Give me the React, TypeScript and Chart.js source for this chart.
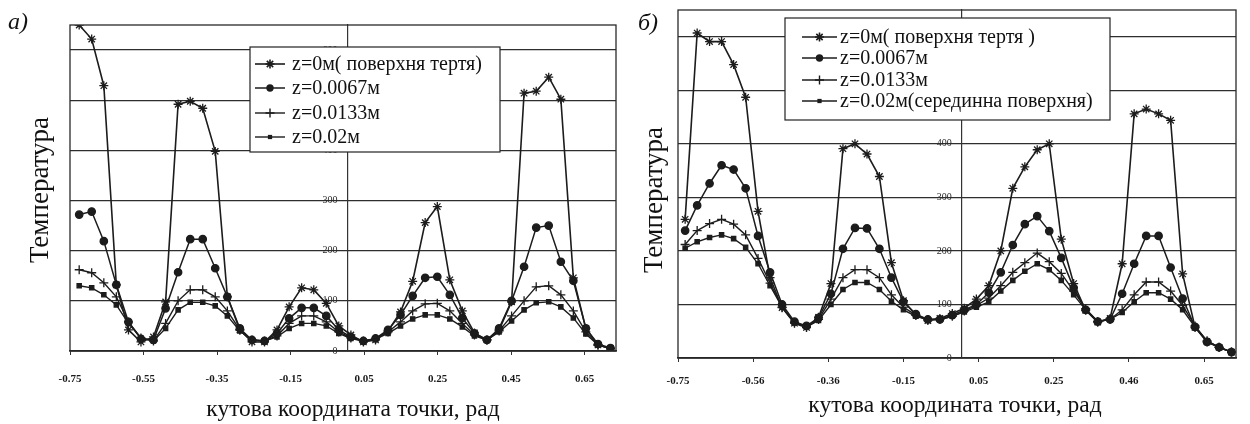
import React, { useEffect, useRef } from 'react';
import { Chart, registerables } from 'chart.js';

Chart.register(...registerables);

const SERIF = "'Liberation Serif', 'Times New Roman', serif";

// ---------- panel а) ----------
const XA = [
  -0.725, -0.691, -0.658, -0.624, -0.591, -0.557, -0.523, -0.49, -0.456, -0.423,
  -0.389, -0.355, -0.322, -0.288, -0.255, -0.221, -0.187, -0.154, -0.12, -0.087,
  -0.053, -0.019, 0.014, 0.048, 0.081, 0.115, 0.149, 0.182, 0.216, 0.249,
  0.283, 0.317, 0.35, 0.384, 0.417, 0.451, 0.485, 0.518, 0.552, 0.585,
  0.619, 0.653, 0.686, 0.72,
];
const A_Z0 = [
  650, 622, 529, 132, 42, 18, 28, 98, 492, 498, 484, 398, 108, 42, 18, 18, 42, 88, 126, 122,
  95, 50, 32, 18, 22, 40, 78, 139, 256, 288, 142, 80, 36, 22, 42, 98, 514, 518, 546, 502,
  146, 45, 12, 5,
];
const A_Z1 = [
  272, 278, 219, 132, 58, 24, 22, 85, 157, 223, 223, 165, 108, 45, 22, 20, 35, 65, 86, 86,
  70, 42, 28, 20, 25, 42, 72, 110, 146, 148, 112, 66, 35, 22, 45, 100, 168, 246, 250, 178,
  140, 45, 14, 6,
];
const A_Z2 = [
  162, 156, 136, 108, 58, 26, 20, 55, 100, 122, 122, 108, 80, 42, 22, 20, 30, 55, 70, 70,
  58, 38, 26, 20, 24, 38, 58, 80, 94, 95, 80, 55, 32, 22, 40, 70, 100, 128, 130, 112,
  80, 38, 12, 5,
];
const A_Z3 = [
  130, 126, 112, 92, 55, 26, 20, 45, 82, 97, 97, 90, 70, 40, 22, 20, 28, 45, 55, 55,
  50, 35, 25, 20, 24, 35, 50, 64, 72, 72, 64, 48, 30, 22, 38, 60, 82, 96, 98, 88,
  66, 34, 12, 5,
];
const A_LABELS = ['z=0м( поверхня тертя)', 'z=0.0067м', 'z=0.0133м', 'z=0.02м'];
const A_XTICK_LABELS = ['-0.75', '-0.55', '-0.35', '-0.15', '0.05', '0.25', '0.45', '0.65'];

// ---------- panel б) ----------
const XB = [
  -0.731, -0.699, -0.666, -0.634, -0.602, -0.57, -0.537, -0.505, -0.473, -0.44,
  -0.408, -0.376, -0.343, -0.311, -0.279, -0.247, -0.214, -0.182, -0.15, -0.117,
  -0.085, -0.053, -0.02, 0.012, 0.044, 0.077, 0.109, 0.141, 0.173, 0.206,
  0.238, 0.27, 0.303, 0.335, 0.367, 0.4, 0.432, 0.464, 0.496, 0.529,
  0.561, 0.593, 0.626, 0.658, 0.69, 0.723,
];
const B_Z0 = [
  259, 607, 591, 591, 548, 487, 274, 150, 94, 65, 57, 76, 139, 391, 400, 381, 339, 178, 107, 80,
  70, 74, 83, 93, 110, 135, 200, 317, 357, 389, 400, 222, 139, 89, 67, 74, 176, 456, 465, 456,
  444, 157, 57, 30, 20, 11,
];
const B_Z1 = [
  238, 285, 326, 360, 352, 317, 228, 160, 100, 68, 60, 75, 120, 204, 243, 242, 204, 150, 105, 82,
  72, 72, 80, 90, 100, 122, 160, 211, 250, 265, 237, 187, 131, 90, 68, 72, 120, 176, 228, 228,
  169, 111, 58, 30, 20, 11,
];
const B_Z2 = [
  212, 238, 251, 259, 250, 230, 186, 140, 95, 66, 58, 72, 110, 150, 165, 165, 150, 118, 95, 80,
  72, 72, 78, 88, 98, 112, 135, 160, 178, 196, 180, 158, 125, 92, 68, 72, 90, 118, 142, 142,
  125, 98, 60, 32, 20, 11,
];
const B_Z3 = [
  205, 217, 225, 230, 223, 207, 176, 135, 95, 66, 58, 70, 100, 128, 141, 141, 128, 106, 90, 78,
  72, 72, 78, 86, 95, 105, 125, 145, 162, 176, 165, 145, 118, 90, 68, 72, 85, 105, 122, 122,
  110, 90, 58, 32, 20, 11,
];
const B_LABELS = ['z=0м( поверхня тертя )', 'z=0.0067м', 'z=0.0133м', 'z=0.02м(серединна поверхня)'];
const B_XTICK_LABELS = ['-0.75', '-0.56', '-0.36', '-0.15', '0.05', '0.25', '0.46', '0.65'];

// ---------- shared ----------
const X_TICK_VALUES = [-0.75, -0.55, -0.35, -0.15, 0.05, 0.25, 0.45, 0.65];
const Y_TICK_VALUES = [0, 100, 200, 300, 400, 500, 600];
const X_TITLE = 'кутова координата точки, рад';
const Y_TITLE = 'Температура';

const SERIES_STYLE = [
  { pointStyle: 'star', pointRadius: 4.5, borderWidth: 1.6 },
  { pointStyle: 'circle', pointRadius: 3.7, borderWidth: 1.5 },
  { pointStyle: 'cross', pointRadius: 4.5, borderWidth: 1.4 },
  { pointStyle: 'rect', pointRadius: 3, borderWidth: 1.4 },
];

function drawMarker(ctx: CanvasRenderingContext2D, style: string, x: number, y: number, r: number) {
  ctx.beginPath();
  if (style === 'circle') {
    ctx.arc(x, y, r, 0, Math.PI * 2);
    ctx.fill();
    return;
  }
  if (style === 'rect') {
    const s = r / Math.SQRT2;
    ctx.fillRect(x - s, y - s, 2 * s, 2 * s);
    return;
  }
  ctx.moveTo(x - r, y); ctx.lineTo(x + r, y);
  ctx.moveTo(x, y - r); ctx.lineTo(x, y + r);
  if (style === 'star') {
    const d = r * Math.SQRT1_2;
    ctx.moveTo(x - d, y - d); ctx.lineTo(x + d, y + d);
    ctx.moveTo(x - d, y + d); ctx.lineTo(x + d, y - d);
  }
  ctx.stroke();
}

const decorPlugin = {
  id: 'decor',
  afterDraw(chart: any, _args: any, opts: any) {
    const ctx: CanvasRenderingContext2D = chart.ctx;
    const { left, right, top, bottom } = chart.chartArea;
    ctx.save();
    // plot frame
    ctx.strokeStyle = '#2a2a2a';
    ctx.lineWidth = 1.3;
    ctx.strokeRect(left, top, right - left, bottom - top);

    // legend box
    const lg = opts.legend;
    ctx.fillStyle = '#ffffff';
    ctx.fillRect(lg.x, lg.y, lg.w, lg.h);
    ctx.strokeStyle = '#222';
    ctx.lineWidth = 1.2;
    ctx.strokeRect(lg.x, lg.y, lg.w, lg.h);
    chart.data.datasets.forEach((ds: any, i: number) => {
      const y = lg.rows[i];
      ctx.strokeStyle = ds.borderColor;
      ctx.fillStyle = ds.borderColor;
      ctx.lineWidth = ds.borderWidth;
      ctx.beginPath();
      ctx.moveTo(lg.sx0, y);
      ctx.lineTo(lg.sx1, y);
      ctx.stroke();
      drawMarker(ctx, ds.pointStyle, (lg.sx0 + lg.sx1) / 2, y, ds.pointRadius);
      ctx.fillStyle = '#111';
      ctx.font = `20px ${SERIF}`;
      ctx.textAlign = 'left';
      ctx.textBaseline = 'middle';
      ctx.fillText(ds.label, lg.tx, y + 1);
    });

    // axis titles
    ctx.fillStyle = '#111';
    ctx.font = `23.5px ${SERIF}`;
    ctx.textAlign = 'center';
    ctx.textBaseline = 'middle';
    ctx.fillText(X_TITLE, opts.xTitle.x, opts.xTitle.y);

    ctx.save();
    ctx.translate(opts.yTitle.x, opts.yTitle.y);
    ctx.rotate(-Math.PI / 2);
    ctx.font = `27px ${SERIF}`;
    ctx.fillText(Y_TITLE, 0, 0);
    ctx.restore();

    // panel label
    ctx.font = `italic 24px ${SERIF}`;
    ctx.textAlign = 'left';
    ctx.textBaseline = 'alphabetic';
    ctx.fillText(opts.panelLabel.text, opts.panelLabel.x, opts.panelLabel.y);
    ctx.restore();
  },
};

type PanelDef = {
  xs: number[];
  series: number[][];
  labels: string[];
  xTickLabels: string[];
  padding: { left: number; right: number; top: number };
  xAxisHeight: number;
  xTickPadding: number;
  legend: any;
  xTitle: { x: number; y: number };
  yTitle: { x: number; y: number };
  panelLabel: { text: string; x: number; y: number };
};

function buildConfig(p: PanelDef): any {
  const datasets = p.series.map((vals, i) => ({
    label: p.labels[i],
    data: p.xs.map((x, k) => ({ x, y: vals[k] })),
    borderColor: '#1c1c1c',
    backgroundColor: '#1c1c1c',
    pointBackgroundColor: '#1c1c1c',
    pointBorderColor: '#1c1c1c',
    pointBorderWidth: 1.3,
    borderWidth: SERIES_STYLE[i].borderWidth,
    pointStyle: SERIES_STYLE[i].pointStyle,
    pointRadius: SERIES_STYLE[i].pointRadius,
    tension: 0,
    fill: false,
  }));
  return {
    type: 'line',
    data: { datasets },
    options: {
      responsive: false,
      animation: false,
      devicePixelRatio: 1,
      layout: { padding: { left: p.padding.left, right: p.padding.right, top: p.padding.top, bottom: 0 } },
      plugins: {
        legend: { display: false },
        tooltip: { enabled: false },
        decor: {
          legend: p.legend,
          xTitle: p.xTitle,
          yTitle: p.yTitle,
          panelLabel: p.panelLabel,
        },
      },
      scales: {
        x: {
          type: 'linear',
          min: -0.75,
          max: 0.735,
          afterBuildTicks: (s: any) => {
            s.ticks = X_TICK_VALUES.map((v) => ({ value: v }));
          },
          afterFit: (s: any) => {
            s.height = p.xAxisHeight;
          },
          grid: { drawOnChartArea: false, drawTicks: true, tickLength: 4, color: '#333', lineWidth: 1 },
          border: { display: true, color: '#222', width: 1.4 },
          ticks: {
            autoSkip: false,
            maxRotation: 0,
            padding: p.xTickPadding,
            color: '#1a1a1a',
            font: { family: SERIF, size: 11, weight: 'bold' },
            callback: (_v: any, i: number) => p.xTickLabels[i],
          },
        },
        y: {
          type: 'linear',
          min: 0,
          max: 650,
          position: { x: 0.005 },
          afterBuildTicks: (s: any) => {
            s.ticks = Y_TICK_VALUES.map((v) => ({ value: v }));
          },
          grid: { drawTicks: false, color: '#2e2e2e', lineWidth: 1.3 },
          border: { display: true, color: '#333', width: 1.2 },
          ticks: {
            color: '#2a2a2a',
            padding: 4,
            font: { family: SERIF, size: 10 },
            callback: (v: any) => String(v) + '\u2002\u2002',
          },
        },
      },
    },
    plugins: [decorPlugin],
  };
}

const PANEL_A: PanelDef = {
  xs: XA,
  series: [A_Z0, A_Z1, A_Z2, A_Z3],
  labels: A_LABELS,
  xTickLabels: A_XTICK_LABELS,
  padding: { left: 70, right: 9, top: 25 },
  xAxisHeight: 73,
  xTickPadding: 18,
  legend: { x: 250, y: 47, w: 250, h: 105, rows: [64, 88, 113, 137], sx0: 255, sx1: 285, tx: 292 },
  xTitle: { x: 353, y: 410 },
  yTitle: { x: 41, y: 190 },
  panelLabel: { text: 'а)', x: 8, y: 29 },
};

const PANEL_B: PanelDef = {
  xs: XB,
  series: [B_Z0, B_Z1, B_Z2, B_Z3],
  labels: B_LABELS,
  xTickLabels: B_XTICK_LABELS,
  padding: { left: 53, right: 14, top: 10 },
  xAxisHeight: 66,
  xTickPadding: 13,
  legend: { x: 160, y: 18, w: 325, h: 102, rows: [37, 58, 80, 101], sx0: 177, sx1: 212, tx: 215 },
  xTitle: { x: 330, y: 406 },
  yTitle: { x: 30, y: 200 },
  panelLabel: { text: 'б)', x: 13, y: 30 },
};

function ChartPanel({ def, left }: { def: PanelDef; left: number }) {
  const ref = useRef<HTMLCanvasElement>(null);
  useEffect(() => {
    if (!ref.current) return;
    const chart = new Chart(ref.current, buildConfig(def));
    return () => chart.destroy();
  }, [def]);
  return (
    <canvas
      ref={ref}
      width={625}
      height={424}
      style={{ position: 'absolute', left, top: 0, width: 625, height: 424 }}
    />
  );
}

export default function App() {
  return (
    <div style={{ position: 'absolute', left: 0, top: 0, width: 1250, height: 424, background: '#ffffff', overflow: 'hidden' }}>
      <ChartPanel def={PANEL_A} left={0} />
      <ChartPanel def={PANEL_B} left={625} />
    </div>
  );
}
